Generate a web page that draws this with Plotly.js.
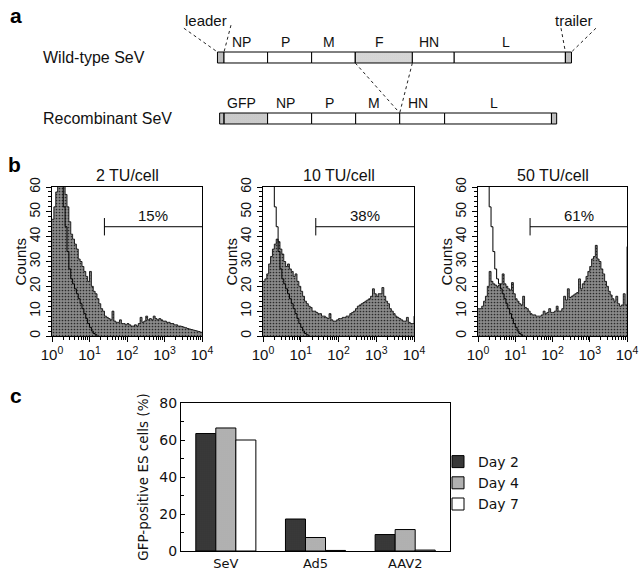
<!DOCTYPE html>
<html><head><meta charset="utf-8">
<script src="https://cdn.plot.ly/plotly-3.0.1.min.js"></script>
<style>html,body{margin:0;padding:0;background:#fff}#chart{width:640px;height:572px}</style>
</head><body><div id="chart"></div>
<script>
// ================= DATA =================
// Panel a: genome schematic (segment lengths in schematic units)
const constructNames = ['Wild-type SeV', 'Recombinant SeV'];
const wtGenes   = ['leader', 'NP', 'P', 'M', 'F', 'HN', 'L', 'trailer'];
const wtLengths = [0.15, 1.0, 1.01, 1.0, 1.31, 0.96, 2.55, 0.14];
const recGenes   = ['leader', 'GFP', 'NP', 'P', 'M', 'HN', 'L', 'trailer'];
const recLengths = [0.1, 1.0, 1.01, 1.01, 1.01, 1.03, 2.45, 0.12];

// Panel b: flow cytometry histograms (log10 channel, counts)
const doseTitles = ['2 TU/cell', '10 TU/cell', '50 TU/cell'];
const gatePercents = ['15%', '38%', '61%'];
const gateStartChannel = 25;
const gateCount = 44;
const decadeTicks = [1, 10, 100, 1000, 10000];
const decadeLabels = ['10<sup>0</sup>', '10<sup>1</sup>', '10<sup>2</sup>', '10<sup>3</sup>', '10<sup>4</sup>'];
const channelLog = [0,0.05,0.1,0.15,0.2,0.25,0.3,0.35,0.4,0.45,0.5,0.55,0.6,0.65,0.7,0.75,0.8,0.85,0.9,0.95,
  1,1.05,1.1,1.15,1.2,1.25,1.3,1.35,1.4,1.45,1.5,1.55,1.6,1.65,1.7,1.75,1.8,1.85,1.9,1.95,
  2,2.05,2.1,2.15,2.2,2.25,2.3,2.35,2.4,2.45,2.5,2.55,2.6,2.65,2.7,2.75,2.8,2.85,2.9,2.95,
  3,3.05,3.1,3.15,3.2,3.25,3.3,3.35,3.4,3.45,3.5,3.55,3.6,3.65,3.7,3.75,3.8,3.85,3.9,3.95,4];
const counts2TU = [47,52,58,66,63,68,62,57,52,46,41,39,37,35,31,30,28,26,24,22,
  26,20,18,17,15,13,11,10,8,7.5,7,6.5,10,6,5.5,5.5,6.5,5,5,4.5,
  5,4.5,4,4,4.5,4,5,7.5,5.5,6,8,6.5,7,6.5,8,7,6.5,7,6.5,6,
  6,5.5,5.5,5,5,4.5,4.5,4,4,3.8,3.5,3.3,3,2.8,2.6,2.4,2.2,2,1.8,1.5,1.3];
const counts10TU = [22,23,25,29,32,35,37,39,38,35,33,30,28,29,27,26,24,25,22,20,
  18,16,14,13,12,11.5,10,10,9.5,9,9,8,8,7.5,7,9,6.5,6,6,6.5,
  7,7,7.5,7.5,8,8,9,9.5,10,11,12,12.5,13,13.5,14,14.5,15,16,19,17,
  16,17,17,19.5,16,14,13,11,10,9,8,7.5,7,6.5,6,6,7.5,5.5,5,5,8];
const counts50TU = [11,11,12,14,16,20,26,22,21,20.5,20,20.5,21,25,21,20,19,18.5,21.5,17,
  15,14,13,12.5,16,11.5,11,10,9,8.5,8.5,8,8,8,8.5,10,9,9.5,11,9.5,
  9.5,10,12,10,10,11,16,14.5,19,15.5,16,16.5,17,17.5,23,19,21,22,24,26,
  28,31,32,36.5,31,30,27,25,22,20,18,16.5,15,14,16,13,12,12.5,17,12.5,36];
const controlCounts = [62,70,75,72,68,63,52,44,34,27,23,21,19,17,15,13,11,9,7,5,3.5,2,1,0.5,0];

// Panel c: GFP-positive ES cells (%)
const vectors = ['SeV', 'Ad5', 'AAV2'];
const dayNames = ['Day 2', 'Day 4', 'Day 7'];
const day2 = [63.5, 17.3, 8.9];
const day4 = [66.5, 7.3, 11.6];
const day7 = [60.0, 0.3, 0.5];

// ================= HELPERS / STYLE =================
const W = 640, H = 572;
const px = v => v / W;
const py = v => 1 - v / H;
const ARIAL = 'Liberation Sans, Arial, Helvetica, sans-serif';
const GEO = 'DejaVu Sans, Verdana, sans-serif';

const segStyle = {
  leader:  {color: '#444', shape: '.', fg: '#111', bg: '#4a4a4a'},
  trailer: {color: '#444', shape: '.', fg: '#111', bg: '#4a4a4a'},
  F:       {color: '#8a8a8a', shape: '.', fg: '#333', bg: '#909090'},
  GFP:     {color: '#6a6a6a', shape: '.', fg: '#222', bg: '#707070'},
  other:   {color: '#ffffff', shape: '', fg: '#000', bg: '#ffffff'}
};

// schematic axis scale: 1 unit = 43.6 px, gene region starts at 224 px
const unitPx = 43.6, startPx = 224;
const rowPx = [57.5, 118.5], rowGapPx = 61;
const barH = 0.18;

const traces = [];
const annotations = [];

// ---------- Panel a ----------
function layoutConstruct(genes, lengths, row) {
  const starts = [];
  let pos = -lengths[0];
  lengths.forEach(l => { starts.push(pos); pos += l; });
  return {genes, lengths, starts, row};
}
const wt = layoutConstruct(wtGenes, wtLengths, 0);
const rec = layoutConstruct(recGenes, recLengths, 1);

const segX = [], segBase = [], segY = [], segCol = [], segShape = [], segFg = [], segBg = [];
[wt, rec].forEach(c => {
  c.genes.forEach((g, i) => {
    const st = segStyle[g] || segStyle.other;
    segX.push(c.lengths[i]); segBase.push(c.starts[i]); segY.push(c.row);
    segCol.push(st.color); segShape.push(st.shape); segFg.push(st.fg); segBg.push(st.bg);
    if (g !== 'leader' && g !== 'trailer') {
      annotations.push({xref: 'x', yref: 'y', x: c.starts[i] + c.lengths[i] / 2, y: c.row, xanchor: 'center',
        yshift: 16, xshift: -4, text: g, showarrow: false, font: {family: ARIAL, size: 14, color: '#111'}});
    }
  });
  annotations.push({xref: 'paper', yref: 'y', x: px(41), y: c.row, xanchor: 'left', text: constructNames[c.row],
    showarrow: false, font: {family: ARIAL, size: 16, color: '#111'}});
});
traces.push({type: 'bar', orientation: 'h', x: segX, base: segBase, y: segY, width: barH,
  xaxis: 'x', yaxis: 'y', showlegend: false, hoverinfo: 'skip',
  marker: {color: segCol, line: {color: '#000', width: 1},
    pattern: {shape: segShape, fgcolor: segFg, bgcolor: segBg, size: 2, solidity: 0.35}}});

// dotted connectors (F removed -> M/HN junction of recombinant)
const fIdx = wtGenes.indexOf('F');
const fStart = wt.starts[fIdx], fEnd = fStart + wt.lengths[fIdx];
const hnRec = rec.starts[recGenes.indexOf('HN')];
const yb = barH / 2;
const wtEnd = wt.starts[wt.starts.length - 1];
const trEnd = wtEnd + wt.lengths[wt.lengths.length - 1];
const ldStart = wt.starts[0];
traces.push({type: 'scatter', mode: 'lines', xaxis: 'x', yaxis: 'y', showlegend: false, hoverinfo: 'skip',
  x: [fStart, hnRec, null, fEnd, hnRec,
      null, ldStart - 0.77, ldStart, null, 0.16, 0,
      null, wtEnd - 0.1, wtEnd, null, trEnd + 0.56, trEnd],
  y: [yb, 1 - yb, null, yb, 1 - yb,
      null, -0.48, -yb, null, -0.53, -yb,
      null, -0.48, -yb, null, -0.48, -yb],
  line: {color: '#222', width: 1, dash: 'dot'}});
annotations.push({xref: 'x', yref: 'y', x: ldStart - 0.27, y: -0.6, xanchor: 'center', text: 'leader', showarrow: false,
  font: {family: ARIAL, size: 15, color: '#111'}});
annotations.push({xref: 'x', yref: 'y', x: trEnd + 0.05, y: -0.6, xanchor: 'center', text: 'trailer', showarrow: false,
  font: {family: ARIAL, size: 15, color: '#111'}});

// ---------- Panel b ----------
const channels = channelLog.map(v => Math.pow(10, v));
const histCounts = [counts2TU, counts10TU, counts50TU];
const minorVals = [];
decadeTicks.slice(0, 4).forEach(d => { for (let k = 2; k <= 9; k++) minorVals.push(k * d); });
const panelX = [[52, 202], [263, 414], [478, 627]];
const panelY = [187, 336];

const layout = {
  width: W, height: H, margin: {l: 0, r: 0, t: 0, b: 0},
  paper_bgcolor: '#fff', plot_bgcolor: 'rgba(0,0,0,0)',
  font: {family: ARIAL, color: '#111'},
  barmode: 'group', bargap: 0.33, bargroupgap: 0,
  showlegend: true,
  legend: {x: px(438), y: py(446), xanchor: 'left', yanchor: 'top', bgcolor: 'rgba(0,0,0,0)',
    font: {family: GEO, size: 14, color: '#111'}, itemclick: false, itemdoubleclick: false, tracegroupgap: 2},
  xaxis: {domain: [0, 1], range: [-startPx / unitPx, (W - startPx) / unitPx], visible: false, fixedrange: true},
  yaxis: {domain: [py(140), 1], range: [(140 - rowPx[0]) / rowGapPx, -rowPx[0] / rowGapPx], visible: false, fixedrange: true},
  annotations: annotations
};

histCounts.forEach((cnt, p) => {
  const n = p + 2, xa = 'x' + n, ya = 'y' + n;
  layout['xaxis' + n] = {domain: [px(panelX[p][0]), px(panelX[p][1])], anchor: ya, type: 'log', range: [0, 4],
    tickmode: 'array', tickvals: decadeTicks, ticktext: decadeLabels, ticks: 'outside', ticklen: 5, tickwidth: 1,
    tickcolor: '#000', showline: true, mirror: true, linecolor: '#000', linewidth: 1, showgrid: false, zeroline: false,
    tickfont: {family: ARIAL, size: 15, color: '#111'}, fixedrange: true,
    minor: {tickmode: 'array', tickvals: minorVals, ticks: 'outside', ticklen: 3, tickcolor: '#000', showgrid: false}};
  layout['yaxis' + n] = {domain: [py(panelY[1]), py(panelY[0])], anchor: xa, range: [0, 60], dtick: 10,
    tickangle: -90, ticks: 'outside', ticklen: 5, tickcolor: '#000', showline: true, mirror: true, linecolor: '#000',
    linewidth: 1, showgrid: false, zeroline: false, tickfont: {family: ARIAL, size: 14, color: '#111'}, fixedrange: true,
    minor: {dtick: 2, ticks: 'outside', ticklen: 3, tickcolor: '#000', showgrid: false}};
  traces.push({type: 'scatter', mode: 'lines', x: channels, y: cnt, xaxis: xa, yaxis: ya,
    line: {shape: 'hv', color: '#111', width: 0.9}, fill: 'tozeroy', fillcolor: '#7c7c7c',
    fillpattern: {shape: '.', fgcolor: '#2a2a2a', bgcolor: '#8a8a8a', size: 3, solidity: 0.25},
    showlegend: false, hoverinfo: 'skip'});
  traces.push({type: 'scatter', mode: 'lines', x: channels.slice(0, controlCounts.length), y: controlCounts,
    xaxis: xa, yaxis: ya, line: {shape: 'hv', color: '#000', width: 1}, showlegend: false, hoverinfo: 'skip'});
  traces.push({type: 'scatter', mode: 'lines', xaxis: xa, yaxis: ya, showlegend: false, hoverinfo: 'skip',
    x: [gateStartChannel, decadeTicks[4], null, gateStartChannel, gateStartChannel],
    y: [gateCount, gateCount, null, gateCount - 3.5, gateCount + 3.5], line: {color: '#000', width: 1}});
  annotations.push({xref: xa, yref: ya, x: 2.7, y: gateCount + 4.5, xanchor: 'center', text: gatePercents[p], showarrow: false,
    font: {family: ARIAL, size: 15, color: '#111'}});
  annotations.push({xref: xa + ' domain', yref: 'paper', x: 0.5, y: py(165), xanchor: 'center', text: doseTitles[p], showarrow: false,
    font: {family: ARIAL, size: 16, color: '#111'}});
  annotations.push({xref: xa + ' domain', yref: ya + ' domain', x: 0, y: 0.5, xshift: -32, xanchor: 'center', yanchor: 'middle',
    text: 'Counts', textangle: -90, showarrow: false, font: {family: ARIAL, size: 15, color: '#111'}});
});

// ---------- Panel c ----------
layout.xaxis5 = {domain: [px(181), px(450)], anchor: 'y5', type: 'category', showline: true, mirror: true,
  linecolor: '#000', linewidth: 1, ticks: '', showgrid: false, tickfont: {family: GEO, size: 13, color: '#111'}, fixedrange: true};
layout.yaxis5 = {domain: [py(551), py(403)], anchor: 'x5', range: [0, 80], dtick: 20, ticks: 'inside', ticklen: 4,
  tickcolor: '#000', showline: true, mirror: true, linecolor: '#000', linewidth: 1, showgrid: false, zeroline: false,
  tickfont: {family: GEO, size: 14, color: '#111'}, fixedrange: true,
  minor: {dtick: 10, ticks: 'inside', ticklen: 3, tickcolor: '#000', showgrid: false},
  title: {text: 'GFP-positive ES cells (%)', font: {family: GEO, size: 13.5, color: '#111'}, standoff: 7}};
const dayStyles = [
  {color: '#454545', pattern: {shape: '.', fgcolor: '#111', bgcolor: '#505050', size: 2, solidity: 0.4}},
  {color: '#c4c4c4', pattern: {shape: '.', fgcolor: '#777', bgcolor: '#d0d0d0', size: 2, solidity: 0.35}},
  {color: '#ffffff'}
];
[day2, day4, day7].forEach((vals, i) => {
  const m = Object.assign({line: {color: '#000', width: 1}}, dayStyles[i]);
  traces.push({type: 'bar', name: dayNames[i], x: vectors, y: vals, xaxis: 'x5', yaxis: 'y5', marker: m, hoverinfo: 'skip'});
});

// panel letters
[['a', 16, 15], ['b', 14, 165], ['c', 16, 395]].forEach(([t, x, y]) => {
  annotations.push({xref: 'paper', yref: 'paper', x: px(x), y: py(y), xanchor: 'center', yanchor: 'middle',
    text: '<b>' + t + '</b>', showarrow: false, font: {family: ARIAL, size: 21, color: '#000'}});
});

Plotly.newPlot('chart', traces, layout, {staticPlot: true, displayModeBar: false});
</script>
</body></html>
